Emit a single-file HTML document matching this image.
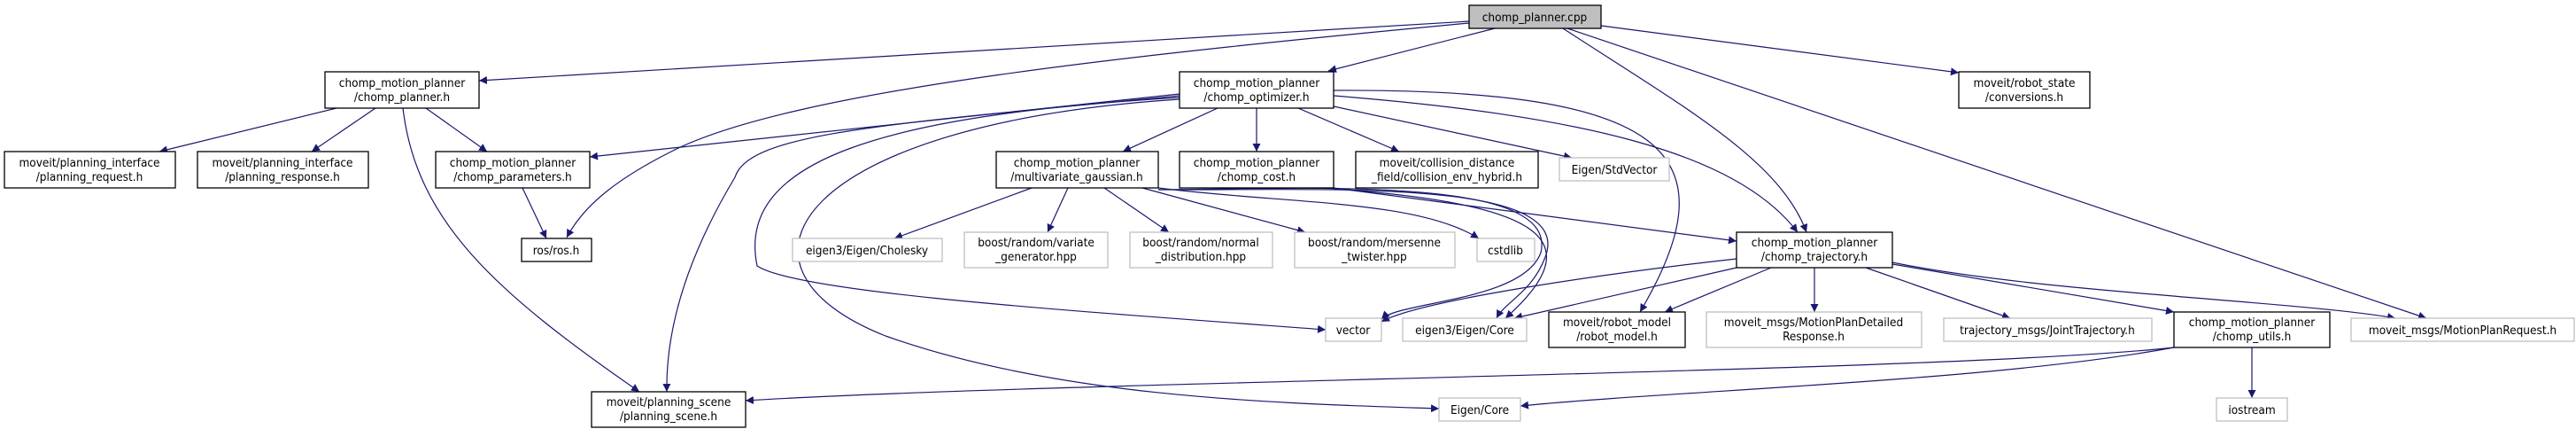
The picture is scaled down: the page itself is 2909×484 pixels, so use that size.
<!DOCTYPE html>
<html><head><meta charset="utf-8"><style>
html,body{margin:0;padding:0;background:#fff;}
svg{display:block;}
text{font-family:"DejaVu Sans Condensed","Liberation Sans",sans-serif;font-size:13.5px;fill:#000;text-anchor:middle;}
.b{fill:#fff;stroke:#000;stroke-width:1.3;}
.g{fill:#fff;stroke:#bfbfbf;stroke-width:1.3;}
.e{fill:none;stroke:#191970;stroke-width:1.2;marker-end:url(#a);}
</style></head><body>
<svg width="2909" height="484" viewBox="0 0 2909 484" xmlns="http://www.w3.org/2000/svg">
<defs><marker id="a" viewBox="0 0 10 10" refX="10" refY="5" markerWidth="9" markerHeight="9" markerUnits="userSpaceOnUse" orient="auto"><path d="M0,0 L10,5 L0,10 z" fill="#191970"/></marker></defs>
<path class="e" d="M1659,24 L541,91"/>
<path class="e" d="M1659,26 C1300,60 900,100 760,170 C700,200 660,230 640,268"/>
<path class="e" d="M1688,32 L1500,80"/>
<path class="e" d="M1765,32 C1900,120 2010,180 2040,262"/>
<path class="e" d="M1808,29 L2212,82"/>
<path class="e" d="M1770,32 L2740,359"/>
<path class="e" d="M1375,122 L1268,171"/>
<path class="e" d="M1419,122 L1419,171"/>
<path class="e" d="M1466,122 L1580,171"/>
<path class="e" d="M1506,120 L1775,178"/>
<path class="e" d="M1506,102 C1880,100 1960,170 1852,352"/>
<path class="e" d="M1506,108 C1780,130 1960,170 2030,262"/>
<path class="e" d="M1332,106 L666,177"/>
<path class="e" d="M1332,108 C1000,140 845,150 830,200 C770,300 752,380 753,442"/>
<path class="e" d="M1332,110 C1000,130 830,180 855,300 C900,330 1200,350 1497,372"/>
<path class="e" d="M1332,112 C900,140 800,300 1000,379 C1200,450 1450,455 1625,461"/>
<path class="e" d="M380,122 L180,171"/>
<path class="e" d="M424,122 L352,171"/>
<path class="e" d="M481,122 L550,171"/>
<path class="e" d="M455,122 C470,250 560,330 722,442"/>
<path class="e" d="M590,212 L617,269"/>
<path class="e" d="M1165,212 L1010,269"/>
<path class="e" d="M1206,212 L1183,262"/>
<path class="e" d="M1247,212 L1320,262"/>
<path class="e" d="M1290,212 L1474,262"/>
<path class="e" d="M1308,212 C1450,230 1600,225 1670,269"/>
<path class="e" d="M1308,214 C1500,215 1780,200 1745,290 C1730,330 1700,340 1690,359"/>
<path class="e" d="M1308,214 C1500,212 1760,200 1740,285 C1720,340 1580,340 1560,360"/>
<path class="e" d="M1506,212 L1961,272"/>
<path class="e" d="M1506,213 C1740,230 1800,270 1700,359"/>
<path class="e" d="M1961,292 C1800,310 1600,340 1560,363"/>
<path class="e" d="M1961,302 L1710,359"/>
<path class="e" d="M2000,302 L1880,352"/>
<path class="e" d="M2049,302 L2049,352"/>
<path class="e" d="M2107,302 L2270,359"/>
<path class="e" d="M2137,298 L2455,352"/>
<path class="e" d="M2137,296 C2300,330 2600,340 2705,359"/>
<path class="e" d="M2543,392 L2543,449"/>
<path class="e" d="M2455,392 C2200,420 1200,430 842,452"/>
<path class="e" d="M2455,392 C2250,430 1900,440 1717,458"/>
<rect x="1659" y="6" width="149" height="26" fill="#bfbfbf" stroke="#000" stroke-width="1.3"/>
<text x="1733" y="24">chomp_planner.cpp</text>
<rect class="b" x="367" y="81" width="174" height="41"/><text x="454" y="98">chomp_motion_planner</text><text x="454" y="114">/chomp_planner.h</text>
<rect class="b" x="1332" y="81" width="174" height="41"/><text x="1419" y="98">chomp_motion_planner</text><text x="1419" y="114">/chomp_optimizer.h</text>
<rect class="b" x="2212" y="81" width="148" height="41"/><text x="2286" y="98">moveit/robot_state</text><text x="2286" y="114">/conversions.h</text>
<rect class="b" x="5" y="171" width="193" height="41"/><text x="101" y="188">moveit/planning_interface</text><text x="101" y="204">/planning_request.h</text>
<rect class="b" x="223" y="171" width="193" height="41"/><text x="319" y="188">moveit/planning_interface</text><text x="319" y="204">/planning_response.h</text>
<rect class="b" x="492" y="171" width="174" height="41"/><text x="579" y="188">chomp_motion_planner</text><text x="579" y="204">/chomp_parameters.h</text>
<rect class="b" x="1125" y="171" width="183" height="41"/><text x="1216" y="188">chomp_motion_planner</text><text x="1216" y="204">/multivariate_gaussian.h</text>
<rect class="b" x="1332" y="171" width="174" height="41"/><text x="1419" y="188">chomp_motion_planner</text><text x="1419" y="204">/chomp_cost.h</text>
<rect class="b" x="1531" y="171" width="206" height="41"/><text x="1634" y="188">moveit/collision_distance</text><text x="1634" y="204">_field/collision_env_hybrid.h</text>
<rect class="g" x="1761" y="178" width="124" height="26"/><text x="1823" y="196">Eigen/StdVector</text>
<rect class="b" x="589" y="269" width="79" height="26"/><text x="628" y="287">ros/ros.h</text>
<rect class="g" x="895" y="269" width="169" height="26"/><text x="979" y="287">eigen3/Eigen/Cholesky</text>
<rect class="g" x="1089" y="262" width="162" height="40"/><text x="1170" y="278">boost/random/variate</text><text x="1170" y="294">_generator.hpp</text>
<rect class="g" x="1276" y="262" width="161" height="40"/><text x="1356" y="278">boost/random/normal</text><text x="1356" y="294">_distribution.hpp</text>
<rect class="g" x="1462" y="262" width="181" height="40"/><text x="1552" y="278">boost/random/mersenne</text><text x="1552" y="294">_twister.hpp</text>
<rect class="g" x="1668" y="269" width="65" height="26"/><text x="1700" y="287">cstdlib</text>
<rect class="b" x="1961" y="262" width="176" height="40"/><text x="2049" y="278">chomp_motion_planner</text><text x="2049" y="294">/chomp_trajectory.h</text>
<rect class="g" x="1497" y="359" width="63" height="26"/><text x="1528" y="377">vector</text>
<rect class="g" x="1584" y="359" width="140" height="26"/><text x="1654" y="377">eigen3/Eigen/Core</text>
<rect class="b" x="1749" y="352" width="154" height="40"/><text x="1826" y="368">moveit/robot_model</text><text x="1826" y="384">/robot_model.h</text>
<rect class="g" x="1927" y="352" width="243" height="40"/><text x="2048" y="368">moveit_msgs/MotionPlanDetailed</text><text x="2048" y="384">Response.h</text>
<rect class="g" x="2195" y="359" width="235" height="26"/><text x="2312" y="377">trajectory_msgs/JointTrajectory.h</text>
<rect class="b" x="2455" y="352" width="176" height="40"/><text x="2543" y="368">chomp_motion_planner</text><text x="2543" y="384">/chomp_utils.h</text>
<rect class="g" x="2655" y="359" width="252" height="26"/><text x="2781" y="377">moveit_msgs/MotionPlanRequest.h</text>
<rect class="b" x="668" y="442" width="174" height="40"/><text x="755" y="458">moveit/planning_scene</text><text x="755" y="474">/planning_scene.h</text>
<rect class="g" x="1625" y="449" width="92" height="26"/><text x="1671" y="467">Eigen/Core</text>
<rect class="g" x="2503" y="449" width="80" height="26"/><text x="2543" y="467">iostream</text>
</svg>
</body></html>
